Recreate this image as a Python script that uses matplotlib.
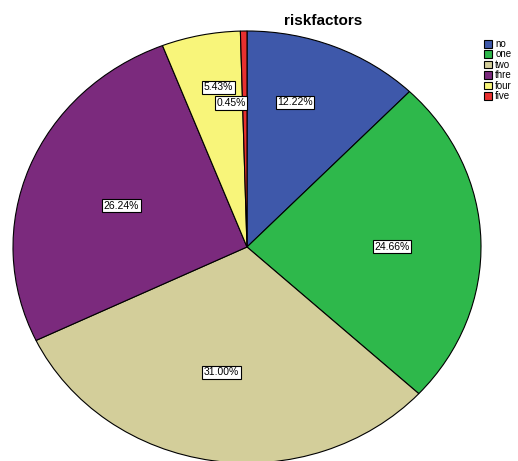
import numpy as np
import matplotlib.pyplot as plt

plt.rcParams['font.family'] = ['Liberation Sans', 'DejaVu Sans']

categories = ['no', 'one', 'two', 'thre', 'four', 'five']
percents = [12.22, 24.66, 31.00, 26.24, 5.43, 0.45]
colors = ['#3E58AA', '#2EB84B', '#D3CE9A', '#7B2A7D', '#F8F57A', '#E8302F']

# label placement (fraction of radius, clockwise shift in degrees) per slice
label_r = [0.70, 0.62, 0.59, 0.57, 0.75, 0.67]
label_shift = [-5, 1.5, 2, -2, 2, -5]

W, H = 518, 461
fig = plt.figure(figsize=(W / 100, H / 100), dpi=100)
# ellipse: centre (247, 247) px, rx 234, ry 216
cx, cy, rx, ry = 247, 247, 234, 216
ax = fig.add_axes([(cx - rx) / W, (H - cy - ry) / H, 2 * rx / W, 2 * ry / H])

wedges, _ = ax.pie(percents, colors=colors, startangle=90, counterclock=False,
                   wedgeprops=dict(edgecolor='black', linewidth=0.8))
ax.set_aspect('auto')
ax.set_xlim(-1, 1)
ax.set_ylim(-1, 1)
for w in wedges:
    w.set_clip_on(False)

for w, p, r, s in zip(wedges, percents, label_r, label_shift):
    mid = np.deg2rad((w.theta1 + w.theta2) / 2 - s)
    ax.text(r * np.cos(mid), r * np.sin(mid), f'{p:.2f}%', ha='center', va='center',
            fontsize=7.5,
            bbox=dict(boxstyle='square,pad=0.15', facecolor='white', edgecolor='black', linewidth=0.8))

fig.text(323 / W, 1 - 21 / H, 'riskfactors', ha='center', va='center',
         fontsize=11, fontweight='bold')

fig.legend(wedges, categories, loc='upper left', bbox_to_anchor=(484 / W, 1 - 39 / H),
           frameon=False, fontsize=7, handlelength=0.85, handleheight=0.85,
           handletextpad=0.3, labelspacing=0.05, borderpad=0, borderaxespad=0)

fig.savefig('out.png', dpi=100)
